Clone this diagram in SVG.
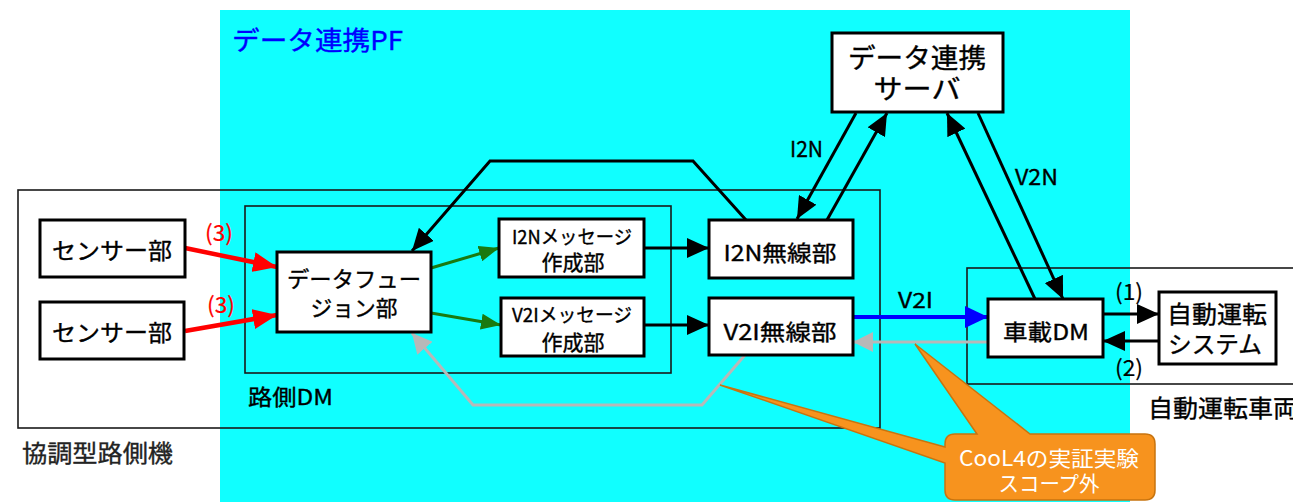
<svg xmlns="http://www.w3.org/2000/svg" width="1293" height="502" viewBox="0 0 1293 502">
<style>
text{font-family:"Noto Sans CJK JP","Noto Sans",sans-serif;fill:#000;stroke:#000;stroke-width:0.35;}
.c{text-anchor:middle;}
.box{fill:#fff;stroke:#000;stroke-width:3;}
.cont{fill:none;stroke:#1a1a1a;stroke-width:1.6;}
.blk{fill:none;stroke:#000;stroke-width:3;marker-end:url(#mk-black);}
.red{fill:none;stroke:#ff0000;stroke-width:4.5;marker-end:url(#mk-red);}
.grn{fill:none;stroke:#1a7a10;stroke-width:3;marker-end:url(#mk-green);}
.blu{fill:none;stroke:#0000ff;stroke-width:4;marker-end:url(#mk-blue);}
.gry{fill:none;stroke:#b8b8b8;stroke-width:3;marker-end:url(#mk-gray);}
</style>
<defs>
<marker id="mk-black" markerUnits="userSpaceOnUse" markerWidth="22" markerHeight="20" refX="22" refY="10" orient="auto"><path d="M0,0 L22,10 L0,20 Z" fill="#000"/></marker>
<marker id="mk-red" markerUnits="userSpaceOnUse" markerWidth="24" markerHeight="20" refX="24" refY="10" orient="auto"><path d="M0,0 L24,10 L0,20 Z" fill="#ff0000"/></marker>
<marker id="mk-green" markerUnits="userSpaceOnUse" markerWidth="20" markerHeight="16" refX="20" refY="8" orient="auto"><path d="M0,0 L20,8 L0,16 Z" fill="#1a7a10"/></marker>
<marker id="mk-blue" markerUnits="userSpaceOnUse" markerWidth="23" markerHeight="22" refX="23" refY="11" orient="auto"><path d="M0,0 L23,11 L0,22 Z" fill="#0000ff"/></marker>
<marker id="mk-gray" markerUnits="userSpaceOnUse" markerWidth="20" markerHeight="20" refX="20" refY="10" orient="auto"><path d="M0,0 L20,10 L0,20 Z" fill="#b8b8b8"/></marker>
</defs>

<rect x="0" y="0" width="1293" height="502" fill="#fff"/>
<g id="pf">
<rect x="220" y="10" width="910" height="492" fill="#10ffff"/>
<text x="232" y="50" font-size="26" textLength="171" lengthAdjust="spacingAndGlyphs" style="fill:#0000ff;stroke:#0000ff">データ連携PF</text>
</g>

<g id="roadside-unit">
<rect class="cont" x="18" y="190" width="862" height="238"/>
<text x="22" y="462" font-size="24" textLength="151" lengthAdjust="spacingAndGlyphs" style="fill:#222;stroke:#222">協調型路側機</text>
</g>
<g id="roadside-dm">
<rect class="cont" x="245" y="206" width="426" height="167"/>
<text x="248" y="405" font-size="22" textLength="85" lengthAdjust="spacingAndGlyphs">路側DM</text>
</g>
<g id="vehicle">
<rect class="cont" x="967" y="268" width="340" height="116"/>
<text x="1148" y="417" font-size="24" textLength="150" lengthAdjust="spacingAndGlyphs">自動運転車両</text>
</g>

<g id="connectors">
<path class="red" d="M185,248 L277,267"/>
<path class="red" d="M185,331 L277,315"/>
<text x="205" y="241" font-size="22" textLength="28" lengthAdjust="spacingAndGlyphs" style="fill:#ff0000;stroke:#ff0000;stroke-width:0.2">(3)</text>
<text x="207" y="313" font-size="22" textLength="28" lengthAdjust="spacingAndGlyphs" style="fill:#ff0000;stroke:#ff0000;stroke-width:0.2">(3)</text>
<path class="grn" d="M431,268 L499,248"/>
<path class="grn" d="M431,313 L501,325"/>
<path class="blk" d="M644,248 L709,248"/>
<path class="blk" d="M644,325 L709,325"/>
<path class="blk" d="M746,220 L693,161 L490,161 L412,251"/>
<path class="blk" d="M856,113 L797,219"/>
<path class="blk" d="M827,220 L887,113"/>
<text x="790" y="157" font-size="22" textLength="33" lengthAdjust="spacingAndGlyphs">I2N</text>
<path class="blk" d="M1035,299 L947,113"/>
<path class="blk" d="M978,113 L1063,299"/>
<text x="1015" y="185" font-size="22" textLength="43" lengthAdjust="spacingAndGlyphs">V2N</text>
<path class="blu" d="M853,317 L988,317"/>
<text x="898" y="308" font-size="21" textLength="35" lengthAdjust="spacingAndGlyphs">V2I</text>
<path class="gry" d="M988,342 L853,342"/>
<path class="gry" d="M745,355 L702,405 L473,405 L412,333"/>
<path class="blk" d="M1103,314 L1159,314"/>
<path class="blk" d="M1159,341 L1103,341"/>
<text x="1115" y="300" font-size="22" textLength="28" lengthAdjust="spacingAndGlyphs" style="stroke-width:0.2">(1)</text>
<text x="1115" y="376" font-size="22" textLength="28" lengthAdjust="spacingAndGlyphs" style="stroke-width:0.2">(2)</text>
</g>

<g id="sensor1">
<rect class="box" x="40" y="220" width="145" height="57"/>
<text class="c" x="112" y="259" font-size="23" textLength="120" lengthAdjust="spacingAndGlyphs">センサー部</text>
</g>
<g id="sensor2">
<rect class="box" x="40" y="302" width="144" height="57"/>
<text class="c" x="112" y="341" font-size="23" textLength="120" lengthAdjust="spacingAndGlyphs">センサー部</text>
</g>
<g id="fusion">
<rect class="box" x="277" y="252" width="154" height="80"/>
<text class="c" x="354" y="287" font-size="22" textLength="134" lengthAdjust="spacingAndGlyphs">データフュー</text>
<text class="c" x="354" y="316" font-size="22" textLength="87" lengthAdjust="spacingAndGlyphs">ジョン部</text>
</g>
<g id="i2n-msg">
<rect class="box" x="499" y="219" width="145" height="58"/>
<text class="c" x="572" y="244" font-size="19" textLength="120" lengthAdjust="spacingAndGlyphs">I2Nメッセージ</text>
<text class="c" x="573" y="270" font-size="21" textLength="63" lengthAdjust="spacingAndGlyphs">作成部</text>
</g>
<g id="v2i-msg">
<rect class="box" x="501" y="298" width="143" height="58"/>
<text class="c" x="572" y="322" font-size="19" textLength="120" lengthAdjust="spacingAndGlyphs">V2Iメッセージ</text>
<text class="c" x="573" y="350" font-size="21" textLength="63" lengthAdjust="spacingAndGlyphs">作成部</text>
</g>
<g id="i2n-radio">
<rect class="box" x="709" y="220" width="144" height="58"/>
<text class="c" x="780" y="261" font-size="22" textLength="113" lengthAdjust="spacingAndGlyphs">I2N無線部</text>
</g>
<g id="v2i-radio">
<rect class="box" x="709" y="298" width="144" height="57"/>
<text class="c" x="780" y="340" font-size="22" textLength="113" lengthAdjust="spacingAndGlyphs">V2I無線部</text>
</g>
<g id="server">
<rect class="box" x="832" y="33" width="171" height="79"/>
<text class="c" x="917" y="68" font-size="27" textLength="138" lengthAdjust="spacingAndGlyphs">データ連携</text>
<text class="c" x="917" y="99" font-size="27" textLength="87" lengthAdjust="spacingAndGlyphs">サーバ</text>
</g>
<g id="car-dm">
<rect class="box" x="988" y="299" width="115" height="58"/>
<text class="c" x="1046" y="340" font-size="22" textLength="86" lengthAdjust="spacingAndGlyphs">車載DM</text>
</g>
<g id="ad-system">
<rect class="box" x="1159" y="292" width="117" height="72"/>
<text class="c" x="1217" y="323" font-size="24" textLength="100" lengthAdjust="spacingAndGlyphs">自動運転</text>
<text class="c" x="1215" y="353" font-size="24" textLength="94" lengthAdjust="spacingAndGlyphs">システム</text>
</g>

<g id="callout">
<path d="M955,434 L977,434 L915,344 L1030,434 L1145,434 Q1155,434 1155,444 L1155,490 Q1155,500 1145,500 L955,500 Q945,500 945,490 L945,463 L720,385 L945,447 L945,444 Q945,434 955,434 Z" fill="#f7931e" stroke="#c8740f" stroke-width="1.5"/>
<text class="c" x="1049" y="466" font-size="21" textLength="180" lengthAdjust="spacingAndGlyphs" style="fill:#fff;stroke:none">CooL4の実証実験</text>
<text class="c" x="1049" y="491" font-size="21" textLength="101" lengthAdjust="spacingAndGlyphs" style="fill:#fff;stroke:none">スコープ外</text>
</g>
</svg>
